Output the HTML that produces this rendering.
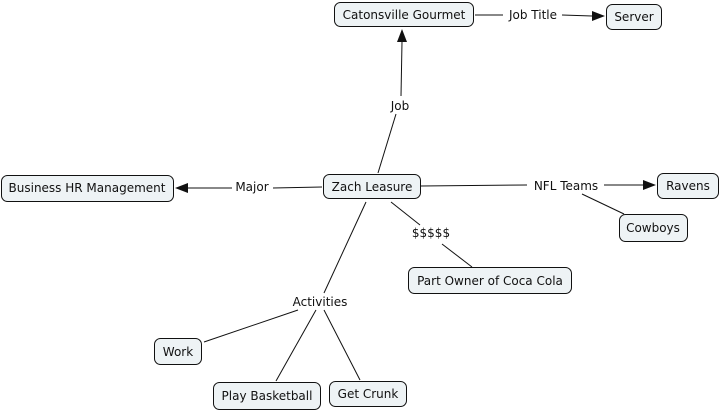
<!DOCTYPE html>
<html><head><meta charset="utf-8"><style>
html,body{margin:0;padding:0;background:#fff;width:723px;height:411px;overflow:hidden}
svg text{font-family:"DejaVu Sans","Liberation Sans",sans-serif;font-size:12px;fill:#111}
.n{fill:#eef3f5;stroke:#111;stroke-width:1}
.l{stroke:#111;stroke-width:1;fill:none}
</style></head><body>
<svg width="723" height="411" xmlns="http://www.w3.org/2000/svg">
<!-- lines -->
<line class="l" x1="378" y1="173" x2="396" y2="114"/>
<line class="l" x1="401" y1="96" x2="402" y2="42"/>
<polygon points="402,29 397,42 407,42" fill="#111"/>
<line class="l" x1="475" y1="15" x2="503" y2="15"/>
<line class="l" x1="562" y1="15" x2="592" y2="16"/>
<polygon points="605,16 592,11 592,21" fill="#111"/>
<line class="l" x1="322" y1="187" x2="273" y2="188"/>
<line class="l" x1="232" y1="188" x2="188" y2="188"/>
<polygon points="175,188 188,183 188,193" fill="#111"/>
<line class="l" x1="421" y1="186" x2="527" y2="185"/>
<line class="l" x1="604" y1="185" x2="643" y2="185"/>
<polygon points="656,185 643,180 643,190" fill="#111"/>
<line class="l" x1="582" y1="194" x2="624" y2="214"/>
<line class="l" x1="391" y1="202" x2="420" y2="225"/>
<line class="l" x1="442" y1="244" x2="472" y2="267"/>
<line class="l" x1="366" y1="202" x2="324" y2="293"/>
<line class="l" x1="298" y1="310" x2="204" y2="342"/>
<line class="l" x1="316" y1="310" x2="276" y2="381"/>
<line class="l" x1="324" y1="310" x2="360" y2="380"/>
<!-- link labels -->
<text x="400" y="110" text-anchor="middle">Job</text>
<text x="533" y="19" text-anchor="middle">Job Title</text>
<text x="252" y="191" text-anchor="middle">Major</text>
<text x="566" y="190" text-anchor="middle">NFL Teams</text>
<text x="431" y="237" text-anchor="middle">$$$$$</text>
<text x="320" y="306" text-anchor="middle">Activities</text>
<!-- nodes -->
<rect class="n" x="334.5" y="2.5" width="139" height="24" rx="6"/>
<text x="404" y="19" text-anchor="middle">Catonsville Gourmet</text>
<rect class="n" x="606.5" y="4.5" width="55" height="25" rx="6"/>
<text x="634" y="21" text-anchor="middle">Server</text>
<rect class="n" x="323.5" y="174.5" width="97" height="24" rx="6"/>
<text x="372" y="191" text-anchor="middle">Zach Leasure</text>
<rect class="n" x="1.5" y="175.5" width="172" height="26" rx="6"/>
<text x="87" y="192" text-anchor="middle">Business HR Management</text>
<rect class="n" x="657.5" y="173.5" width="61" height="25" rx="6"/>
<text x="688" y="190" text-anchor="middle">Ravens</text>
<rect class="n" x="619.5" y="214.5" width="68" height="27" rx="6"/>
<text x="653" y="232" text-anchor="middle">Cowboys</text>
<rect class="n" x="408.5" y="267.5" width="163" height="26" rx="6"/>
<text x="490" y="285" text-anchor="middle">Part Owner of Coca Cola</text>
<rect class="n" x="154.5" y="338.5" width="47" height="26" rx="6"/>
<text x="178" y="356" text-anchor="middle">Work</text>
<rect class="n" x="213.5" y="382.5" width="107" height="27" rx="6"/>
<text x="267" y="400" text-anchor="middle">Play Basketball</text>
<rect class="n" x="329.5" y="381.5" width="77" height="25" rx="6"/>
<text x="368" y="398" text-anchor="middle">Get Crunk</text>
</svg>
</body></html>
